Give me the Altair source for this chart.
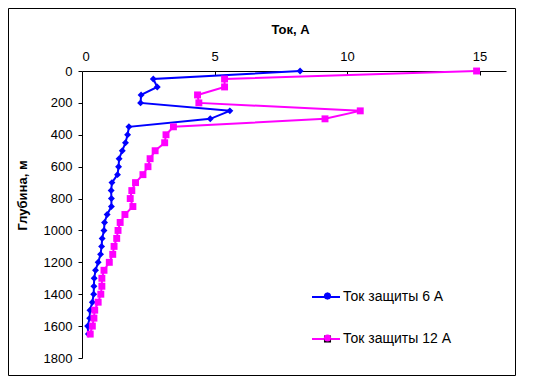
import altair as alt
import pandas as pd

depth_m = [0, 50, 100, 150, 200, 250, 300, 350, 400, 450, 500, 550, 600, 650,
           700, 750, 800, 850, 900, 950, 1000, 1050, 1100, 1150, 1200, 1250,
           1300, 1350, 1400, 1450, 1500, 1550, 1600, 1650]

current_6a = [8.23, 2.69, 2.84, 2.23, 2.21, 5.58, 4.84, 1.77, 1.72, 1.64, 1.52,
              1.40, 1.38, 1.34, 1.13, 1.10, 1.11, 1.11, 0.95, 0.85, 0.83, 0.76,
              0.74, 0.70, 0.61, 0.51, 0.46, 0.45, 0.44, 0.39, 0.30, 0.29, 0.21,
              0.24]

current_12a = [14.89, 5.38, 5.38, 4.36, 4.41, 10.50, 9.17, 3.45, 3.17, 3.12,
               2.76, 2.57, 2.49, 2.30, 2.02, 1.88, 1.82, 1.92, 1.62, 1.44, 1.36,
               1.31, 1.21, 1.16, 1.03, 0.83, 0.75, 0.75, 0.71, 0.61, 0.48, 0.45,
               0.39, 0.31]

series_names = ["Ток защиты 6 А", "Ток защиты 12 А"]
series_colors = ["#0000FF", "#FF00FF"]
series_shapes = ["diamond", "square"]

x_ticks = [0, 5, 10, 15]
y_ticks = [0, 200, 400, 600, 800, 1000, 1200, 1400, 1600, 1800]

rows = []
for name, vals in zip(series_names, [current_6a, current_12a]):
    for d, v in zip(depth_m, vals):
        rows.append({"series": name, "series_m": name, "depth": d, "current": v})
df = pd.DataFrame(rows)

FONT = "Liberation Sans"

x_scale = alt.Scale(domain=[0, 16], nice=False, zero=False)
y_scale = alt.Scale(domain=[0, 1800], nice=False, reverse=True)

y_axis = alt.Axis(values=y_ticks, format="d", title="Глубина, м", grid=False,
                  tickSize=4, tickColor="black", domainColor="black",
                  labelPadding=6, labelFontSize=13, labelFont=FONT,
                  labelColor="black", titleFont=FONT, titleFontSize=13,
                  titleFontWeight="bold", titleColor="black",
                  titleX=-60, titleY=124, titleBaseline="middle",
                  titleAngle=270)

top_axis = alt.Axis(orient="top", values=x_ticks, format="d", title="Ток, А",
                    grid=False, ticks=False, tickSize=0, domainColor="black",
                    labelPadding=15, labelBaseline="middle", labelFontSize=13,
                    labelFont=FONT, labelColor="black", titleFont=FONT,
                    titleFontSize=13, titleFontWeight="bold", titleColor="black",
                    titleX=208, titleY=-42, titleBaseline="middle")

tick_axis = alt.Axis(orient="bottom", offset=-287, values=[5, 10, 15],
                     labels=False, domain=False, title=None, grid=False,
                     ticks=True, tickSize=4, tickColor="black")

line_legend = alt.Legend(orient="none", legendX=229, legendY=211, title=None,
                         symbolType="stroke", symbolSize=784,
                         symbolStrokeWidth=2, labelFontSize=14, labelFont=FONT,
                         labelColor="black", labelOffset=2, rowPadding=20,
                         padding=0)

point_legend = alt.Legend(orient="none", legendX=239, legendY=218.5, title=None,
                          symbolSize=50, labelFontSize=13, labelFont=FONT,
                          labelExpr="''", rowPadding=28, padding=0)

frame = alt.Chart(pd.DataFrame({"k": [0]})).mark_rect(
    fill=None, stroke="black", strokeWidth=1
).encode(
    x=alt.value(-73.5), x2=alt.value(433.5),
    y=alt.value(-62.5), y2=alt.value(304.5)
)

base = alt.Chart(df)

lines = base.mark_line(strokeWidth=2).encode(
    x=alt.X("current:Q", scale=x_scale, axis=top_axis),
    y=alt.Y("depth:Q", scale=y_scale, axis=y_axis),
    stroke=alt.Stroke("series:N", sort=series_names,
                      scale=alt.Scale(range=series_colors), legend=line_legend),
    order=alt.Order("depth:Q"),
)

points = base.mark_point(filled=True, size=48, opacity=1).encode(
    x=alt.X("current:Q", scale=x_scale, axis=tick_axis),
    y=alt.Y("depth:Q", scale=y_scale, axis=y_axis),
    fill=alt.Fill("series_m:N", sort=series_names,
                  scale=alt.Scale(range=series_colors), legend=point_legend),
    shape=alt.Shape("series_m:N", sort=series_names,
                    scale=alt.Scale(range=series_shapes), legend=point_legend),
)

chart = alt.layer(frame, lines, points).resolve_axis(
    x="independent"
).properties(
    width=424, height=287,
    autosize=alt.AutoSizeParams(type="none"),
    padding={"left": 74, "top": 63, "right": 12, "bottom": 18},
    background="white",
).configure_view(stroke=None)

chart.save("out.html", embed_options={"renderer": "svg", "actions": False})
